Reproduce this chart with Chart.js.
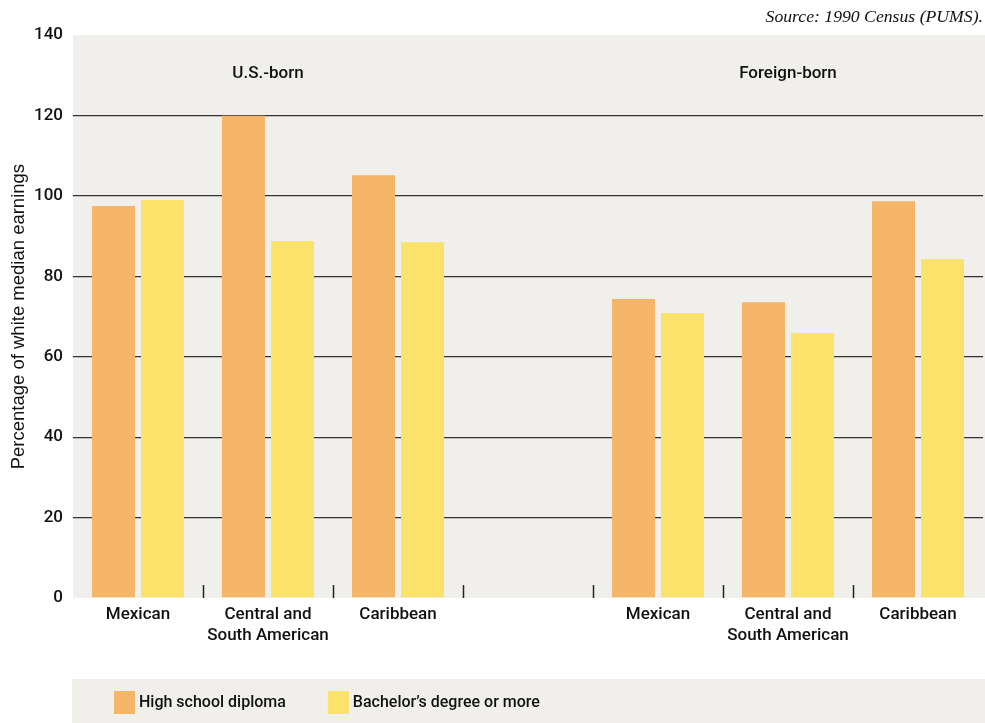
<!DOCTYPE html>
<html>
<head>
<meta charset="utf-8">
<script src="https://cdn.jsdelivr.net/npm/chart.js@4.4.1/dist/chart.umd.min.js"></script>
<style>
  html, body { margin: 0; padding: 0; background: #fff; }
  #wrap { width: 985px; height: 723px; position: relative; }
</style>
</head>
<body>
<div id="wrap"><canvas id="chart"></canvas></div>
<script>
// ── Data ──────────────────────────────────────────────────────────────────────
const categories = [
  'Mexican', ['Central and', 'South American'], 'Caribbean', '',
  'Mexican', ['Central and', 'South American'], 'Caribbean',
];
const highSchool = [97.5, 120, 105.2, null, 74.4, 73.6, 98.7];
const bachelors  = [99, 88.8, 88.5, null, 70.9, 65.9, 84.3];
const seriesNames = ['High school diploma', 'Bachelor\u2019s degree or more'];
const yTicks = [0, 20, 40, 60, 80, 100, 120, 140];
const groupNames = ['U.S.-born', 'Foreign-born'];
const groupCategory = [1, 5];   // category index each group label sits over
const sourceNote = 'Source: 1990 Census (PUMS).';
const yTitle = 'Percentage of white median earnings';

// ── Styles ────────────────────────────────────────────────────────────────────
const FONT = 'Roboto, "Open Sans", sans-serif';
const ORANGE = '#f5b66a';
const YELLOW = '#fbe26a';
const PLOT_BG = '#f0efeb';
const INK = '#111';
const GROUP_LABEL_Y = 130.5;   // in data units

// grey plot background, reaching the right edge of the canvas
const plotBg = {
  id: 'plotBg',
  beforeDraw(chart) {
    const { ctx, chartArea: a } = chart;
    ctx.save();
    ctx.fillStyle = PLOT_BG;
    ctx.fillRect(a.left, a.top, chart.width - a.left, a.bottom - a.top);
    ctx.restore();
  },
};

// short tick marks between categories, drawn up from the bottom
const catTicks = {
  id: 'catTicks',
  beforeDatasetsDraw(chart) {
    const { ctx, chartArea: a, scales: { x } } = chart;
    ctx.save();
    ctx.strokeStyle = '#222';
    ctx.lineWidth = 1.5;
    for (let i = 0; i < categories.length - 1; i++) {
      const px = Math.round((x.getPixelForValue(i) + x.getPixelForValue(i + 1)) / 2) + 0.5;
      ctx.beginPath();
      ctx.moveTo(px, a.bottom - 13);
      ctx.lineTo(px, a.bottom);
      ctx.stroke();
    }
    ctx.restore();
  },
};

// group headings inside the plot
const groupLabels = {
  id: 'groupLabels',
  afterDraw(chart) {
    const { ctx, scales: { x, y } } = chart;
    ctx.save();
    ctx.fillStyle = INK;
    ctx.font = `500 17px ${FONT}`;
    ctx.textAlign = 'center';
    ctx.textBaseline = 'middle';
    groupNames.forEach((name, i) => {
      ctx.fillText(name, x.getPixelForValue(groupCategory[i]), y.getPixelForValue(GROUP_LABEL_Y));
    });
    ctx.restore();
  },
};

// legend in a grey band at the foot of the figure
const footLegend = {
  id: 'footLegend',
  afterDraw(chart) {
    const { ctx } = chart;
    const top = 679;
    ctx.save();
    ctx.fillStyle = PLOT_BG;
    ctx.fillRect(72, top, chart.width - 72, chart.height - top);
    ctx.font = `500 16px ${FONT}`;
    ctx.textBaseline = 'middle';
    let cx = 114;
    chart.data.datasets.forEach(ds => {
      ctx.fillStyle = ds.backgroundColor;
      ctx.fillRect(cx, top + 12, 21, 23);
      ctx.fillStyle = INK;
      ctx.fillText(ds.label, cx + 25, top + 24);
      cx += 25 + ctx.measureText(ds.label).width + 42;
    });
    ctx.restore();
  },
};

const datasets = [
  { label: seriesNames[0], data: highSchool, backgroundColor: ORANGE },
  { label: seriesNames[1], data: bachelors, backgroundColor: YELLOW },
].map(d => ({ ...d, borderWidth: 0, categoryPercentage: 0.754, barPercentage: 0.878 }));

new Chart(document.getElementById('chart'), {
  type: 'bar',
  data: { labels: categories, datasets },
  plugins: [plotBg, catTicks, groupLabels, footLegend],
  options: {
    responsive: true,
    maintainAspectRatio: false,
    animation: false,
    layout: { padding: { left: 0, right: 2, top: 0, bottom: 0 } },
    plugins: {
      legend: { display: false },
      tooltip: { enabled: false },
      title: {
        display: true,
        text: sourceNote,
        align: 'end',
        color: INK,
        font: { family: '"Liberation Serif", "Times New Roman", serif', size: 17.7, style: 'italic', weight: 'normal', lineHeight: 1.2 },
        padding: { top: 7, bottom: 7 },
      },
    },
    scales: {
      x: {
        grid: { display: false },
        border: { display: false },
        ticks: {
          color: INK,
          font: { family: FONT, size: 17, weight: '500', lineHeight: 1.25 },
          padding: -2,
          maxRotation: 0,
          autoSkip: false,
        },
        afterFit: s => { s.height = 125; },
      },
      y: {
        min: 0,
        max: 140,
        afterBuildTicks: s => { s.ticks = yTicks.map(v => ({ value: v })); },
        grid: {
          color: c => (c.tick && (c.tick.value === 0 || c.tick.value === 140)) ? 'rgba(0,0,0,0)' : '#333',
          lineWidth: 1.3,
          drawTicks: false,
        },
        border: { display: false },
        ticks: {
          color: INK,
          font: { family: FONT, size: 17, weight: '500' },
          padding: 10,
        },
        title: {
          display: true,
          text: yTitle,
          color: INK,
          font: { family: '"Liberation Sans", Arial, sans-serif', size: 18.5, weight: 'normal', lineHeight: 1.2 },
          padding: { top: 8, bottom: 0 },
        },
        afterFit: s => { s.width = 73; },
      },
    },
  },
});
</script>
</body>
</html>
